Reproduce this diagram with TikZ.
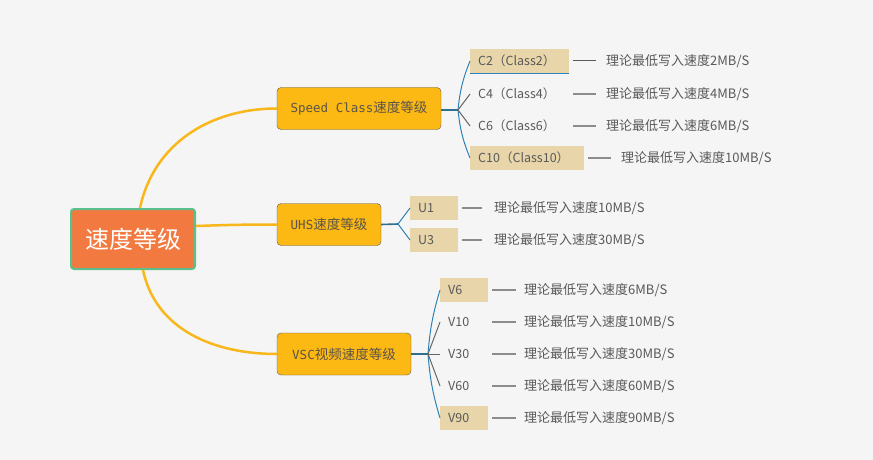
\documentclass[tikz,border=0pt]{standalone}
\usepackage{fontspec}
\setmainfont{Noto Sans CJK SC}
\newfontfamily\monofont{DejaVu Sans Mono}
\usetikzlibrary{positioning}
\definecolor{bgcol}{HTML}{F5F5F5}
\definecolor{rootfill}{HTML}{F27A40}
\definecolor{rootline}{HTML}{5CC08C}
\definecolor{mainfill}{HTML}{FDB913}
\definecolor{maintext}{HTML}{5C5447}
\definecolor{tan}{HTML}{E8D6AA}
\definecolor{txt}{HTML}{595959}
\definecolor{branchblue}{HTML}{2F82B8}
\definecolor{stubblue}{HTML}{2E6E8E}
\definecolor{curve}{HTML}{F8B71A}

\begin{document}
\begin{tikzpicture}[x=1pt,y=-1pt,
  main/.style={draw=black!65,fill=mainfill,rounded corners=4pt,minimum height=42pt,
    text=maintext,font=\fontsize{13.5}{15}\selectfont,inner sep=0pt},
  item/.style={anchor=west,minimum height=24pt,inner xsep=8pt,inner ysep=0pt,align=left,
    text=txt,font=\fontsize{12.5}{14}\selectfont},
  leaf/.style={anchor=west,inner sep=0pt,text=txt,font=\fontsize{13}{15}\selectfont},
  ]
\fill[bgcol] (0,0) rectangle (873,460);
\useasboundingbox (0,0) rectangle (873,460);

\node[draw=rootline,line width=2pt,fill=rootfill,rounded corners=3pt,minimum width=124pt,
  minimum height=60pt,text=white,font=\fontsize{24}{28}\selectfont] (root) at (133,239) {速度等级};
\node[main,minimum width=164pt] (sc) at (359,108.5) {{\monofont\fontsize{12.5}{14}\selectfont Speed Class}速度等级};
\node[main,minimum width=104pt] (uhs) at (329,224.5) {{\monofont\fontsize{12.5}{14}\selectfont UHS}速度等级};
\node[main,minimum width=134pt] (vsc) at (344,354) {{\monofont\fontsize{12.5}{14}\selectfont VSC}视频速度等级};

\path[curve,line width=2.5pt]
([xshift=7pt]root.north) edge[out=78,in=180] (sc.west)
([yshift=13pt]root.east) edge[out=2,in=180] (uhs.west)
([xshift=10pt]root.south) edge[out=-78,in=180] (vsc.west)
;

% Speed Class
\node[item,fill=tan,text width=83pt] (c2) at (470,61) {C2（Class2）};
\node[item,text width=83pt] (c4) at (470,94) {C4（Class4）};
\node[item,text width=83pt] (c6) at (470,126) {C6（Class6）};
\node[item,fill=tan,text width=98pt] (c10) at (470,158) {C10（Class10）};
\node[leaf] (tc2) at (606,61) {理论最低写入速度2MB/S};
\node[leaf] (tc4) at (606,94) {理论最低写入速度4MB/S};
\node[leaf] (tc6) at (606,126) {理论最低写入速度6MB/S};
\node[leaf] (tc10) at (621,158) {理论最低写入速度10MB/S};
\coordinate (jsc) at (458,110);

% UHS
\node[item,fill=tan,text width=32pt] (u1) at (410,208) {U1};
\node[item,fill=tan,text width=32pt] (u3) at (410,240) {U3};
\node[leaf] (tu1) at (494,208) {理论最低写入速度10MB/S};
\node[leaf] (tu3) at (494,240) {理论最低写入速度30MB/S};
\coordinate (juhs) at (398,224);

% VSC
\node[item,fill=tan,text width=32pt] (v6) at (440,290) {V6};
\node[item,text width=32pt] (v10) at (440,322) {V10};
\node[item,text width=32pt] (v30) at (440,354) {V30};
\node[item,text width=32pt] (v60) at (440,386) {V60};
\node[item,fill=tan,text width=32pt] (v90) at (440,418) {V90};
\node[leaf] (tv6) at (524,290) {理论最低写入速度6MB/S};
\node[leaf] (tv10) at (524,322) {理论最低写入速度10MB/S};
\node[leaf] (tv30) at (524,354) {理论最低写入速度30MB/S};
\node[leaf] (tv60) at (524,386) {理论最低写入速度60MB/S};
\node[leaf] (tv90) at (524,418) {理论最低写入速度90MB/S};
\coordinate (jvsc) at (428,354);

\path[stubblue,line width=1.6pt]
(sc.east |- jsc) edge (jsc)
(uhs.east) edge (juhs)
(vsc.east) edge (jvsc)
;
\path[branchblue,line width=1pt]
(jsc) edge[bend left=8] (c2.west)
(jsc) edge[bend right=8] (c10.west)
(juhs) edge (u1.west)
(juhs) edge (u3.west)
(jvsc) edge[bend left=6] (v6.west)
(jvsc) edge[bend right=6] (v90.west)
(c2.south west) edge (c2.south east)
;
\path[black!60,line width=1pt]
(jsc) edge (c4.west)
(jsc) edge (c6.west)
(jvsc) edge (v10.west)
(jvsc) edge (v30.west)
(jvsc) edge (v60.west)
;
\path[black!45,line width=1.2pt]
([xshift=4pt]c2.east) edge[black!65,line width=1pt] ([xshift=-10pt]tc2.west)
([xshift=4pt]c4.east) edge ([xshift=-10pt]tc4.west)
([xshift=4pt]c6.east) edge ([xshift=-10pt]tc6.west)
([xshift=4pt]c10.east) edge ([xshift=-10pt]tc10.west)
([xshift=4pt]u1.east) edge ([xshift=-12pt]tu1.west)
([xshift=4pt]u3.east) edge ([xshift=-12pt]tu3.west)
([xshift=4pt]v6.east) edge ([xshift=-8pt]tv6.west)
([xshift=4pt]v10.east) edge ([xshift=-8pt]tv10.west)
([xshift=4pt]v30.east) edge ([xshift=-8pt]tv30.west)
([xshift=4pt]v60.east) edge ([xshift=-8pt]tv60.west)
([xshift=4pt]v90.east) edge ([xshift=-8pt]tv90.west)
;
\end{tikzpicture}
\end{document}
